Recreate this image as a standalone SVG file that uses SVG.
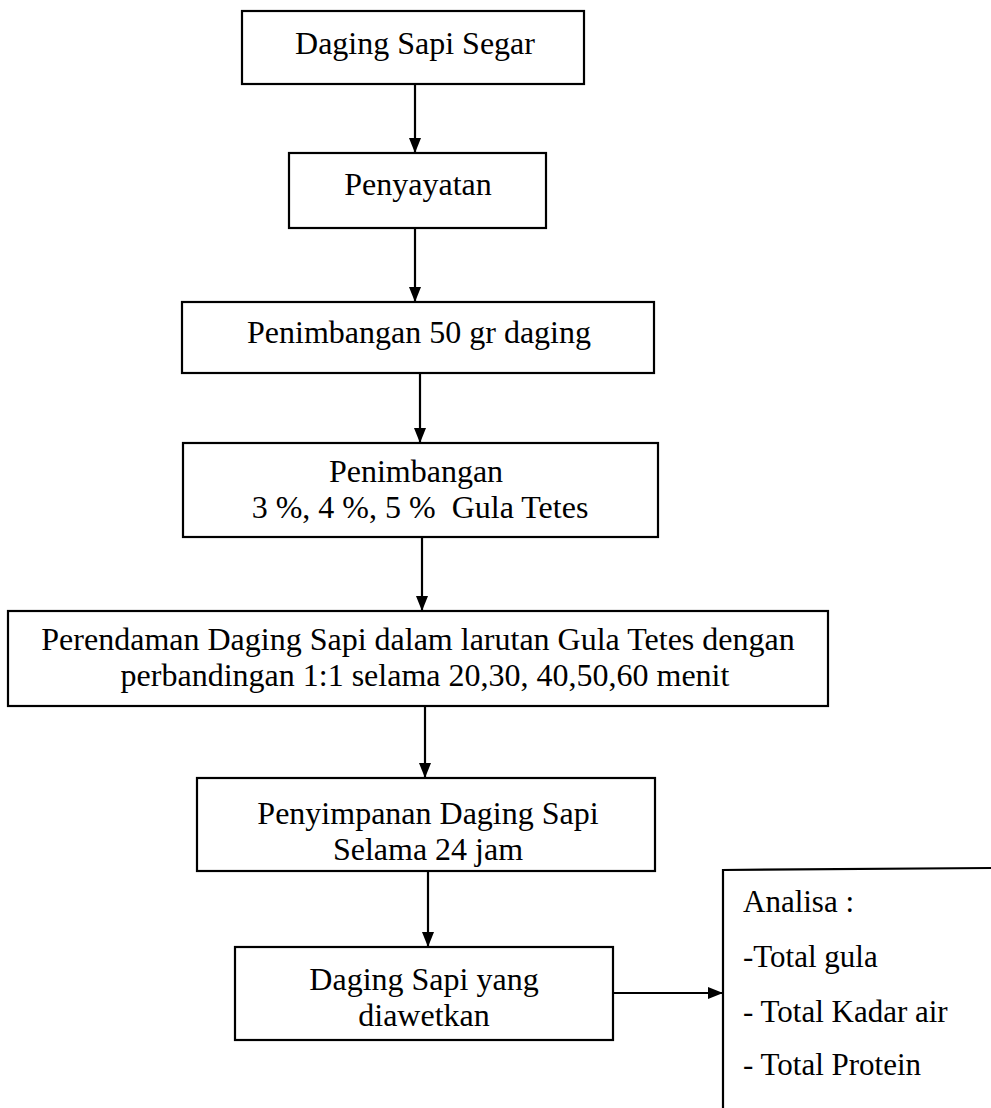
<svg xmlns="http://www.w3.org/2000/svg" width="991" height="1108" viewBox="0 0 991 1108">
<style>
.box{fill:#fff;stroke:#000;stroke-width:2.2}
.t{font-family:"Liberation Serif","Times New Roman",serif;font-size:32px;fill:#000;text-anchor:middle}
.ts{font-family:"Liberation Serif","Times New Roman",serif;font-size:31px;fill:#000}
.c{stroke:#000;stroke-width:2.2;fill:none}
</style>
<defs>
<marker id="ah" viewBox="0 0 15 12" refX="15" refY="6" markerWidth="15" markerHeight="12" markerUnits="userSpaceOnUse" orient="auto">
<path d="M0,0 L15,6 L0,12 Z" fill="#000"/>
</marker>
</defs>
<rect width="991" height="1108" fill="#fff"/>
<g id="connectors">
<line class="c" x1="415" y1="84" x2="415" y2="153" marker-end="url(#ah)"/>
<line class="c" x1="415" y1="228" x2="415" y2="302" marker-end="url(#ah)"/>
<line class="c" x1="420" y1="373" x2="420" y2="443" marker-end="url(#ah)"/>
<line class="c" x1="422" y1="537" x2="422" y2="611" marker-end="url(#ah)"/>
<line class="c" x1="425" y1="706" x2="425" y2="778" marker-end="url(#ah)"/>
<line class="c" x1="428" y1="871" x2="428" y2="947" marker-end="url(#ah)"/>
<line class="c" x1="613" y1="993" x2="723" y2="993" marker-end="url(#ah)"/>
</g>
<g id="n1">
<rect class="box" x="242" y="11" width="342" height="73"/>
<text class="t" x="415" y="54">Daging Sapi Segar</text>
</g>
<g id="n2">
<rect class="box" x="289" y="153" width="257" height="75"/>
<text class="t" x="418" y="195">Penyayatan</text>
</g>
<g id="n3">
<rect class="box" x="182" y="302" width="472" height="71"/>
<text class="t" x="419" y="343">Penimbangan 50 gr daging</text>
</g>
<g id="n4">
<rect class="box" x="183" y="443" width="475" height="94"/>
<text class="t" x="416" y="482">Penimbangan</text>
<text class="t" x="420" y="518" xml:space="preserve">3 %, 4 %, 5 %  Gula Tetes</text>
</g>
<g id="n5">
<rect class="box" x="8" y="611" width="820" height="95"/>
<text class="t" x="418" y="650">Perendaman Daging Sapi dalam larutan Gula Tetes dengan</text>
<text class="t" x="425" y="686">perbandingan 1:1 selama 20,30, 40,50,60 menit</text>
</g>
<g id="n6">
<rect class="box" x="197" y="778" width="458" height="93"/>
<text class="t" x="428" y="824">Penyimpanan Daging Sapi</text>
<text class="t" x="428" y="860">Selama 24 jam</text>
</g>
<g id="n7">
<rect class="box" x="235" y="947" width="378" height="93"/>
<text class="t" x="424" y="990">Daging Sapi yang</text>
<text class="t" x="424" y="1026">diawetkan</text>
</g>
<g id="n8">
<path class="c" d="M723,1108 L723,870 L991,868"/>
<text class="ts" x="743" y="912">Analisa :</text>
<text class="ts" x="743" y="967">-Total gula</text>
<text class="ts" x="743" y="1022">- Total Kadar air</text>
<text class="ts" x="743" y="1075">- Total Protein</text>
</g>
</svg>
